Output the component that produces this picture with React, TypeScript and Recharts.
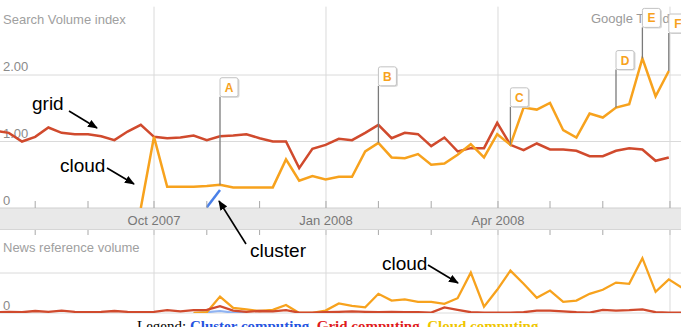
import React from 'react';
import { LineChart, Line, XAxis, YAxis, ReferenceLine } from 'recharts';

// week index, 0 = week of 30 Sep 2007
const weeks = [
  -12, -11, -10, -9, -8, -7, -6, -5, -4, -3, -2, -1, 0, 1, 2, 3, 4, 5, 6, 7, 8, 9, 10, 11, 12, 13, 14,
  15, 16, 17, 18, 19, 20, 21, 22, 23, 24, 25, 26, 27, 28, 29, 30, 31, 32, 33, 34, 35, 36, 37, 38, 39, 40,
];

const searchGrid = [
  1.16, 1.13, 1.0, 1.07, 1.21, 1.13, 1.11, 1.11, 1.08, 1.02, 1.15, 1.25,
  1.07, 1.05, 1.06, 1.09, 1.02, 1.08, 1.09, 1.11, 1.05, 1.0,
  1.0, 0.6, 0.89, 0.95, 1.04, 1.02, 1.13, 1.25, 1.05, 1.13,
  1.11, 0.93, 1.06, 0.85, 0.9, 0.9, 1.28, 0.95, 0.87, 0.97,
  0.88, 0.88, 0.86, 0.78, 0.78, 0.86, 0.9, 0.88, 0.71, 0.76,
  null,
];

const searchCloud = [
  null, null, null, null, null, null, null, null, null, null, null, 0,
  1.07, 0.32, 0.32, 0.32, 0.33, 0.35, 0.31, 0.31, 0.31, 0.31,
  0.73, 0.41, 0.48, 0.43, 0.47, 0.47, 0.85, 0.98, 0.76, 0.75,
  0.81, 0.65, 0.67, 0.8, 0.96, 0.76, 1.11, 0.95, 1.51, 1.48,
  1.58, 1.17, 1.06, 1.42, 1.36, 1.51, 1.56, 2.25, 1.68, 2.06,
  null,
];

const searchCluster = [
  null, null, null, null, null, null, null, null, null, null, null, null,
  null, null, null, null, 0.01, 0.27, null, null, null, null,
  null, null, null, null, null, null, null, null, null, null,
  null, null, null, null, null, null, null, null, null, null,
  null, null, null, null, null, null, null, null, null, null,
  null,
];

const newsGrid = [
  0.02, 0.03, 0.02, 0.05, 0.03, 0.06, 0.03, 0.02, 0.03, 0.05, 0.03, 0.02,
  0.03, 0.07, 0.04, 0.07, 0.08, 0.17, 0.06, 0.03, 0.05, 0.04,
  0.07, 0.01, 0.01, 0.02, 0.03, 0.04, 0.03, 0.02, 0.03, 0.02,
  0.02, 0.01, 0.14, 0.08, 0.02, 0.01, 0.01, 0.01, 0.02, 0.06,
  0.06, 0.04, 0.02, 0.01, 0.08, 0.06, 0.07, 0.09, 0.02, 0.01,
  0.01,
];

const newsCloud = [
  null, null, null, null, null, null, null, null, null, null, null, null,
  null, null, null, 0, 0.02, 0.41, 0.13, 0.09, 0.05, 0.08,
  0.2, 0, 0, 0.06, 0.24, 0.18, 0.14, 0.48, 0.31, 0.34,
  0.28, 0.28, 0.23, 0.37, 1.01, 0.16, 0.58, 1.06, 0.73, 0.38,
  0.56, 0.28, 0.31, 0.48, 0.58, 0.76, 0.73, 1.37, 0.53, 0.84,
  0.63,
];

const newsCluster = [
  null, null, null, null, null, null, null, null, null, null, null, null,
  null, null, null, 0, 0.02, 0.05, 0.01, 0, null, null,
  null, null, null, null, null, null, null, null, null, null,
  null, null, null, null, null, null, null, null, null, null,
  null, null, null, null, null, null, null, null, null, null,
  null,
];

// axis ticks (week positions) and their labels
const tickWeeks = [-9, -5, 0, 4, 8, 13.03, 17, 21, 26.06, 30, 34, 39.09];
const tickLabels = ['', '', 'Oct 2007', '', '', 'Jan 2008', '', '', 'Apr 2008', '', '', ''];
const quarterWeeks = [0, 13.03, 26.06, 39.09];

// event flags on the cloud series
const flagWeeks = [5, 17, 27, 35, 37, 39];
const flagLetters = ['A', 'B', 'C', 'D', 'E', 'F'];
const flagPole = [88, 57, 38, 38, 31, 38];

const searchData = weeks.map((w, i) => ({
  week: w,
  grid: searchGrid[i],
  cloud: searchCloud[i],
  cluster: searchCluster[i],
}));

const newsData = weeks.map((w, i) => ({
  week: w,
  grid: newsGrid[i],
  cloud: newsCloud[i],
  cluster: newsCluster[i],
}));

const RED = '#d04a2d';
const ORANGE = '#f7a21d';
const BLUE = '#4a80e8';
const GRIDLINE = '#dadada';
const SANS = '"Liberation Sans", Arial, sans-serif';

const searchMax = 208 / 66.5;
const xDomain: [number, number] = [-154 / 13.2, (681 - 154) / 13.2];

function MonthTick(props: any) {
  const { x, y, payload } = props;
  const label = tickLabels[tickWeeks.indexOf(payload.value)];
  return (
    <g>
      <line x1={x} x2={x} y1={y - 7} y2={y} stroke="#a8a8a8" strokeWidth={1} />
      <line x1={x} x2={x} y1={y + 22} y2={y + 27} stroke="#a8a8a8" strokeWidth={1} />
      {label ? (
        <text x={x} y={y + 17} textAnchor="middle" fill="#777" fontSize={13} fontFamily={SANS}>
          {label}
        </text>
      ) : null}
    </g>
  );
}

function ValueLabel(props: any) {
  const { viewBox, text, dy = -4 } = props;
  if (!viewBox) return null;
  return (
    <text x={3} y={viewBox.y + dy} fill="#8a8a8a" fontSize={13} fontFamily={SANS}>
      {text}
    </text>
  );
}

function renderFlag(props: any) {
  const { cx, cy, index, payload } = props;
  const f = payload ? flagWeeks.indexOf(payload.week) : -1;
  if (f < 0 || cx == null || cy == null) return <g key={`dot-${index}`} />;
  const top = cy - flagPole[f];
  return (
    <g key={`flag-${index}`}>
      <line x1={cx} x2={cx} y1={top} y2={cy} stroke="#7a7a7a" strokeWidth={1.3} />
      <rect x={cx + 1.5} y={top - 18} width={18} height={19} rx={2} fill="#d8d8d8" />
      <rect x={cx} y={top - 19} width={18} height={19} rx={2} fill="#fff" stroke="#c2c2c2" />
      <text
        x={cx + 9}
        y={top - 5}
        textAnchor="middle"
        fontSize={12}
        fontWeight="bold"
        fill="#f7a21d"
        fontFamily={SANS}
      >
        {flagLetters[f]}
      </text>
    </g>
  );
}

function Arrow({ x1, y1, x2, y2 }: { x1: number; y1: number; x2: number; y2: number }) {
  return <line x1={x1} y1={y1} x2={x2} y2={y2} stroke="#000" strokeWidth={1.6} markerEnd="url(#ah)" />;
}

export default function App() {
  return (
    <div
      style={{
        position: 'absolute',
        left: 0,
        top: 0,
        width: 681,
        height: 327,
        overflow: 'hidden',
        background: '#fff',
      }}
    >
      {/* background: axis band and captions */}
      <svg width={681} height={327} style={{ position: 'absolute', left: 0, top: 0 }}>
        <rect x={0} y={208} width={681} height={21} fill="#e9e9e9" />
        <line x1={0} x2={681} y1={229.5} y2={229.5} stroke="#d6d6d6" />
        <text x={3} y={24} fill="#a0a0a0" fontSize={13} fontFamily={SANS}>
          Search Volume index
        </text>
        <text x={3} y={252} fill="#a0a0a0" fontSize={13} fontFamily={SANS}>
          News reference volume
        </text>
        <text x={591} y={23} fill="#9a9a9a" fontSize={13} fontFamily={SANS}>
          Google Trends
        </text>
      </svg>

      <div style={{ position: 'absolute', left: 0, top: 0 }}>
        <LineChart width={681} height={240} data={searchData} margin={{ top: 0, right: 0, bottom: 0, left: 0 }}>
          <XAxis
            dataKey="week"
            type="number"
            domain={xDomain}
            allowDataOverflow
            ticks={tickWeeks}
            interval={0}
            height={32}
            tickLine={false}
            axisLine={false}
            tickSize={0}
            tickMargin={0}
            tick={<MonthTick />}
          />
          <YAxis type="number" domain={[0, searchMax]} allowDataOverflow hide />
          {quarterWeeks.map((q) => (
            <ReferenceLine
              key={`q${q}`}
              segment={[
                { x: q, y: 0 },
                { x: q, y: searchMax - 0.1 },
              ]}
              stroke={GRIDLINE}
            />
          ))}
          <ReferenceLine y={2} stroke={GRIDLINE} label={<ValueLabel text="2.00" />} />
          <ReferenceLine y={1} stroke={GRIDLINE} label={<ValueLabel text="1.00" />} />
          <ReferenceLine y={0} stroke="#cfcfcf" label={<ValueLabel text="0" dy={-3} />} />
          <Line
            type="linear"
            dataKey="grid"
            stroke={RED}
            strokeWidth={2.5}
            dot={false}
            isAnimationActive={false}
          />
          <Line
            type="linear"
            dataKey="cluster"
            stroke={BLUE}
            strokeWidth={2.5}
            dot={false}
            isAnimationActive={false}
          />
          <Line
            type="linear"
            dataKey="cloud"
            stroke={ORANGE}
            strokeWidth={2.5}
            dot={renderFlag}
            activeDot={false}
            isAnimationActive={false}
          />
        </LineChart>
      </div>

      <div style={{ position: 'absolute', left: 0, top: 229 }}>
        <LineChart width={681} height={98} data={newsData} margin={{ top: 0, right: 0, bottom: 14, left: 0 }}>
          <XAxis dataKey="week" type="number" domain={xDomain} allowDataOverflow hide />
          <YAxis type="number" domain={[0, 2.1]} allowDataOverflow hide />
          {quarterWeeks.map((q) => (
            <ReferenceLine key={`n${q}`} x={q} stroke={GRIDLINE} />
          ))}
          <ReferenceLine y={1} stroke={GRIDLINE} />
          <ReferenceLine y={0} stroke="#dcdcdc" label={<ValueLabel text="0" dy={-3} />} />
          <Line
            type="linear"
            dataKey="cluster"
            stroke="#8fb3f2"
            strokeWidth={2.2}
            dot={false}
            isAnimationActive={false}
          />
          <Line
            type="linear"
            dataKey="cloud"
            stroke={ORANGE}
            strokeWidth={2.3}
            dot={false}
            isAnimationActive={false}
          />
          <Line
            type="linear"
            dataKey="grid"
            stroke={RED}
            strokeWidth={2.3}
            dot={false}
            isAnimationActive={false}
          />
        </LineChart>
      </div>

      {/* annotations */}
      <svg width={681} height={327} style={{ position: 'absolute', left: 0, top: 0 }}>
        <defs>
          <marker id="ah" markerWidth={10} markerHeight={8} refX={9} refY={4} orient="auto" markerUnits="userSpaceOnUse">
            <path d="M0,0 L10,4 L0,8 z" fill="#000" />
          </marker>
        </defs>
        <g fontFamily={SANS} fontSize={19} fill="#000">
          <text x={32} y={110}>grid</text>
          <text x={60} y={172}>cloud</text>
          <text x={250} y={257}>cluster</text>
          <text x={382} y={270}>cloud</text>
        </g>
        <Arrow x1={69} y1={111} x2={97} y2={128} />
        <Arrow x1={107} y1={168} x2={134} y2={184} />
        <Arrow x1={246} y1={244} x2={219} y2={201} />
        <Arrow x1={428} y1={265} x2={458} y2={283} />
      </svg>

      <div
        style={{
          position: 'absolute',
          left: 137,
          top: 319,
          whiteSpace: 'nowrap',
          fontFamily: '"Liberation Serif", "Times New Roman", serif',
          fontSize: 15,
          lineHeight: '15px',
          color: '#000',
        }}
      >
        Legend: <b style={{ color: '#2454e0', textDecoration: 'underline' }}>Cluster computing</b>,{' '}
        <b style={{ color: '#e01b1b', textDecoration: 'underline' }}>Grid computing</b>,{' '}
        <b style={{ color: '#efc600', textDecoration: 'underline' }}>Cloud computing</b>
      </div>
    </div>
  );
}
